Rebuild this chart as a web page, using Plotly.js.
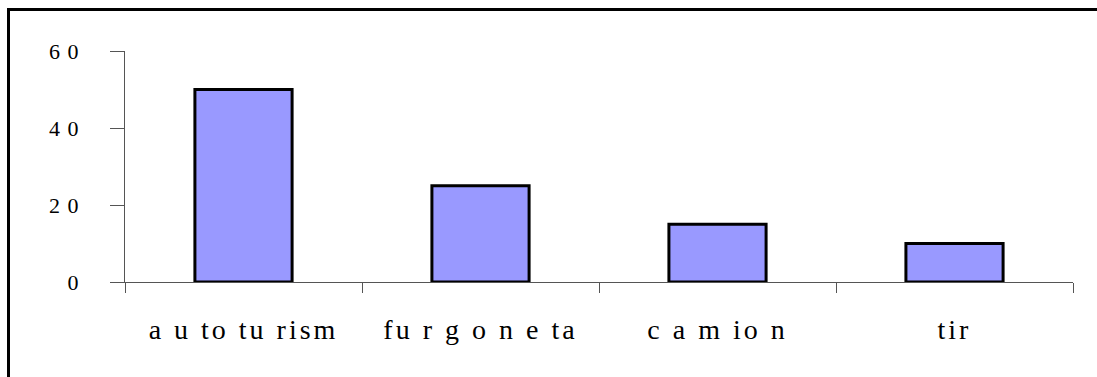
<!DOCTYPE html>
<html>
<head>
<meta charset="utf-8">
<script src="https://cdn.plot.ly/plotly-3.0.1.min.js"></script>
<style>
html,body{margin:0;padding:0;background:#fff;}
#chart{width:1097px;height:377px;position:absolute;left:0;top:0;}
#frame{position:absolute;left:7px;top:8px;width:1200px;height:500px;border-left:3px solid #000;border-top:3px solid #000;pointer-events:none;}
#chart .xtick text{letter-spacing:3px;}
#chart .ytick text{letter-spacing:1px;}
</style>
</head>
<body>
<div id="chart"></div>
<div id="frame"></div>
<script>
const categories = ["a u to tu rism", "fu r g o n e ta", "c a m io n", "tir"];
const values = [50, 25, 15, 10];
const yTickVals = [0, 20, 40, 60];
const yTickText = ["0", "2 0", "4 0", "6 0"];

const serif = "Liberation Serif";

const trace = {
  type: "bar",
  x: categories,
  y: values,
  marker: {color: "#9999FF", line: {color: "#000000", width: 3}},
  hoverinfo: "none"
};

const layout = {
  width: 1097, height: 377,
  margin: {l: 125, r: 24, t: 51, b: 95},
  paper_bgcolor: "#ffffff",
  plot_bgcolor: "#ffffff",
  showlegend: false,
  bargap: 0.59,
  font: {family: serif, color: "#000"},
  xaxis: {
    type: "category",
    showgrid: false, zeroline: false,
    showline: true, linecolor: "#555", linewidth: 1,
    ticks: "outside", ticklen: 10, tickcolor: "#555", tickwidth: 1,
    tickson: "boundaries",
    tickfont: {size: 28, family: serif, color: "#000"},
    ticklabelstandoff: 22
  },
  yaxis: {
    range: [0, 60],
    tickvals: yTickVals, ticktext: yTickText,
    showgrid: false, zeroline: false,
    showline: true, linecolor: "#555", linewidth: 1,
    ticks: "outside", ticklen: 14, tickcolor: "#555", tickwidth: 1,
    tickfont: {size: 22, family: serif, color: "#000"},
    ticklabelstandoff: 26
  }
};

Plotly.newPlot("chart", [trace], layout, {displayModeBar: false, staticPlot: true});
</script>
</body>
</html>
